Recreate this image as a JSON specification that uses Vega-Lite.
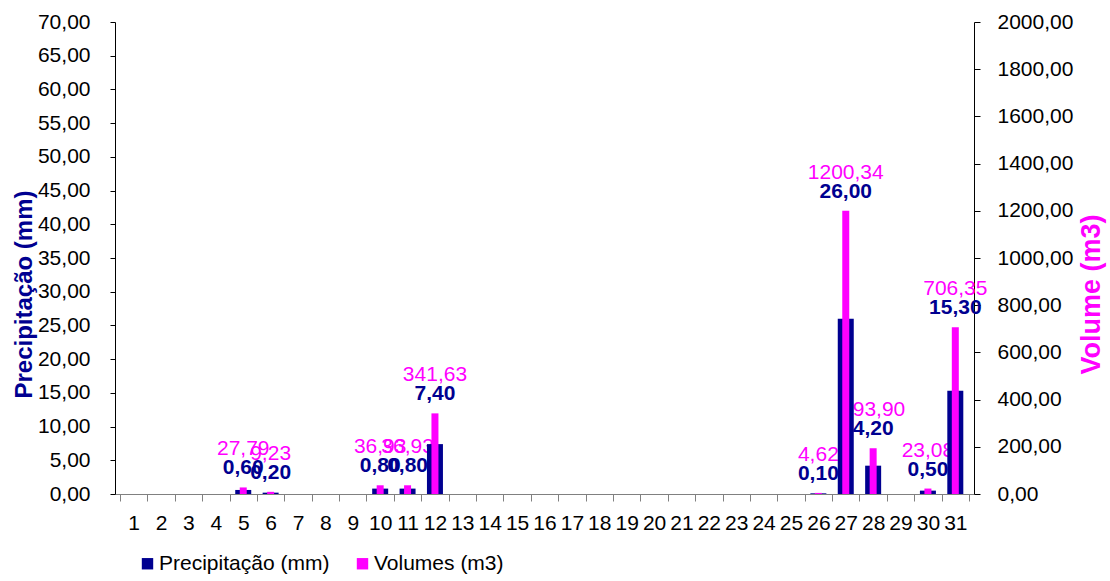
{
  "$schema": "https://vega.github.io/schema/vega-lite/v6.json",
  "width": 859,
  "height": 472,
  "autosize": {"type": "none"},
  "padding": {"left": 115, "top": 22, "right": 136, "bottom": 87},
  "background": "white",
  "config": {
    "locale": {"number": {"decimal": ",", "thousands": ".", "grouping": [3], "currency": ["", ""]}},
    "view": {"stroke": null},
    "font": "Liberation Sans",
    "axis": {"labelFont": "Liberation Sans", "titleFont": "Liberation Sans", "labelColor": "black", "grid": false}
  },
  "data": {
    "values": [
      {"day": 1, "precip": 0, "volume": 0},
      {"day": 2, "precip": 0, "volume": 0},
      {"day": 3, "precip": 0, "volume": 0},
      {"day": 4, "precip": 0, "volume": 0},
      {"day": 5, "precip": 0.6, "volume": 27.79},
      {"day": 6, "precip": 0.2, "volume": 9.23},
      {"day": 7, "precip": 0, "volume": 0},
      {"day": 8, "precip": 0, "volume": 0},
      {"day": 9, "precip": 0, "volume": 0},
      {"day": 10, "precip": 0.8, "volume": 36.93},
      {"day": 11, "precip": 0.8, "volume": 36.93},
      {"day": 12, "precip": 7.4, "volume": 341.63},
      {"day": 13, "precip": 0, "volume": 0},
      {"day": 14, "precip": 0, "volume": 0},
      {"day": 15, "precip": 0, "volume": 0},
      {"day": 16, "precip": 0, "volume": 0},
      {"day": 17, "precip": 0, "volume": 0},
      {"day": 18, "precip": 0, "volume": 0},
      {"day": 19, "precip": 0, "volume": 0},
      {"day": 20, "precip": 0, "volume": 0},
      {"day": 21, "precip": 0, "volume": 0},
      {"day": 22, "precip": 0, "volume": 0},
      {"day": 23, "precip": 0, "volume": 0},
      {"day": 24, "precip": 0, "volume": 0},
      {"day": 25, "precip": 0, "volume": 0},
      {"day": 26, "precip": 0.1, "volume": 4.62},
      {"day": 27, "precip": 26.0, "volume": 1200.34},
      {"day": 28, "precip": 4.2, "volume": 193.90},
      {"day": 29, "precip": 0, "volume": 0},
      {"day": 30, "precip": 0.5, "volume": 23.08},
      {"day": 31, "precip": 15.3, "volume": 706.35}
    ]
  },
  "layer": [
    {
      "transform": [{"filter": "datum.precip > 0"}],
      "encoding": {
        "x": {"field": "day", "type": "quantitative", "scale": {"domain": [0.5, 31.5], "nice": false, "zero": false}, "axis": null},
        "y": {"field": "volume", "type": "quantitative", "scale": {"domain": [0, 2000], "nice": false}, "axis": null}
      },
      "layer": [
        {
          "mark": {"type": "text", "fontSize": 21, "color": "#FF00FF", "baseline": "middle", "align": "center", "dy": -38},
          "encoding": {"text": {"field": "volume", "type": "quantitative", "format": ".2f"}}
        },
        {
          "mark": {"type": "text", "fontSize": 21, "fontWeight": "bold", "color": "#000090", "baseline": "middle", "align": "center", "dy": -19},
          "encoding": {"text": {"field": "precip", "type": "quantitative", "format": ".2f"}}
        }
      ]
    },
    {
      "mark": {"type": "bar", "width": 16},
      "encoding": {
        "x": {"field": "day", "type": "quantitative", "scale": {"domain": [0.5, 31.5], "nice": false, "zero": false},
          "axis": {"orient": "bottom", "values": [0.5,1.5,2.5,3.5,4.5,5.5,6.5,7.5,8.5,9.5,10.5,11.5,12.5,13.5,14.5,15.5,16.5,17.5,18.5,19.5,20.5,21.5,22.5,23.5,24.5,25.5,26.5,27.5,28.5,29.5,30.5,31.5],
            "labels": false, "ticks": true, "tickSize": 7, "tickColor": "#808080", "domainColor": "#808080", "title": null}},
        "y": {"field": "precip", "type": "quantitative", "scale": {"domain": [0, 70], "nice": false},
          "axis": {"orient": "left", "values": [0,5,10,15,20,25,30,35,40,45,50,55,60,65,70], "format": ".2f", "labelFontSize": 21, "tickSize": 5, "labelPadding": 20, "tickColor": "black", "domainColor": "black",
            "title": "Precipitação (mm)", "titleFontSize": 24, "titleFontWeight": "bold", "titleColor": "#000090", "titleAngle": 270, "titleX": -91, "titleY": 272, "titleAlign": "center", "titleBaseline": "middle"}},
        "color": {"datum": "Precipitação (mm)", "type": "nominal",
          "scale": {"domain": ["Precipitação (mm)", "Volumes (m3)"], "range": ["#000090", "#FF00FF"]},
          "legend": {"orient": "none", "legendX": 22, "legendY": 531, "direction": "horizontal", "title": null, "symbolType": "square", "symbolSize": 130, "symbolStrokeWidth": 0, "labelFontSize": 21, "labelFont": "Liberation Sans", "labelColor": "black", "labelLimit": 0, "labelOffset": 1, "columnPadding": 22, "padding": 0}}
      }
    },
    {
      "mark": {"type": "bar", "width": 7},
      "encoding": {
        "x": {"field": "day", "type": "quantitative", "scale": {"domain": [0.5, 31.5], "nice": false, "zero": false},
          "axis": {"orient": "bottom", "values": [1,2,3,4,5,6,7,8,9,10,11,12,13,14,15,16,17,18,19,20,21,22,23,24,25,26,27,28,29,30,31], "format": "d",
            "ticks": false, "domain": false, "labelFontSize": 21, "labelPadding": 18, "labelFlush": false, "labelOverlap": false, "title": null}},
        "y": {"field": "volume", "type": "quantitative", "scale": {"domain": [0, 2000], "nice": false},
          "axis": {"orient": "right", "values": [0,200,400,600,800,1000,1200,1400,1600,1800,2000], "format": ".2f", "labelFontSize": 21, "tickSize": 6, "labelPadding": 17, "tickColor": "black", "domainColor": "black",
            "title": "Volume (m3)", "titleFontSize": 27, "titleFontWeight": "bold", "titleColor": "#FF00FF", "titleAngle": 270, "titleX": 117, "titleY": 272, "titleAlign": "center", "titleBaseline": "middle"}},
        "color": {"datum": "Volumes (m3)", "type": "nominal"}
      }
    }
  ],
  "resolve": {"scale": {"y": "independent"}, "axis": {"x": "independent"}}
}
